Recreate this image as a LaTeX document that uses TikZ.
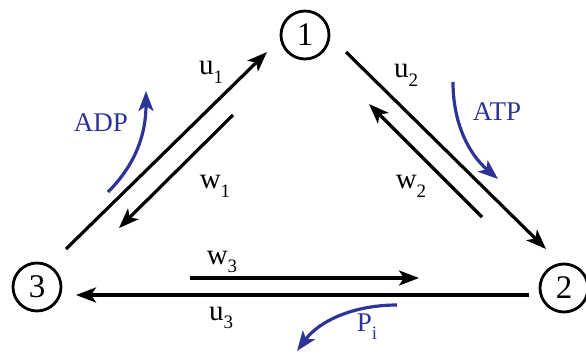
\documentclass[tikz,border=0pt]{standalone}
\usepackage{fontspec}
\setmainfont{Liberation Serif}
\usetikzlibrary{arrows.meta}
\definecolor{myblue}{RGB}{46,52,150}
\newcommand{\lbl}[2]{#1\raisebox{-0.3em}{\fontsize{19}{19}\selectfont #2}}
\begin{document}
\begin{tikzpicture}[x=1pt,y=-1pt,
  state/.style={circle,draw,line width=2.8pt,minimum size=48pt,inner sep=0pt,font=\fontsize{33}{33}\selectfont},
  conn/.style={line width=3.2pt,-{Stealth[length=20pt,width=15pt,inset=5pt]}},
  bluearr/.style={myblue,line width=3.2pt,-{Stealth[length=20pt,width=15pt,inset=5pt]}},
  txt/.style={font=\fontsize{29}{29}\selectfont,inner sep=0pt},
  btxt/.style={font=\fontsize{27}{27}\selectfont,inner sep=0pt,text=myblue}]
\useasboundingbox (0,0) rectangle (586,354);
\node[state] (n1) at (305,35) {1};
\node[state] (n2) at (564,288) {2};
\node[state] (n3) at (37,287) {3};
% edge 3-1
\coordinate (u1a) at (66,249);
\coordinate (u1b) at (267,52);
\coordinate (w1a) at (233,115);
\coordinate (w1b) at (119,228);
\draw[conn] (u1a) -- (u1b);
\draw[conn] (w1a) -- (w1b);
% edge 1-2
\coordinate (u2a) at (346,52);
\coordinate (u2b) at (546,249);
\coordinate (w2a) at (482,217);
\coordinate (w2b) at (369,104);
\draw[conn] (u2a) -- (u2b);
\draw[conn] (w2a) -- (w2b);
% edge 2-3
\coordinate (w3a) at (190,278);
\coordinate (w3b) at (419,278);
\coordinate (u3a) at (529,295);
\coordinate (u3b) at (76,295);
\draw[conn] (w3a) -- (w3b);
\draw[conn] (u3a) -- (u3b);
% blue arrows
\coordinate (adpa) at (108,192);
\coordinate (adpb) at (146,91);
\draw[bluearr] (adpa) .. controls (135,165) and (146,135) .. (adpb);
\coordinate (atpa) at (453,82);
\coordinate (atpb) at (498,179);
\draw[bluearr] (atpa) .. controls (453,125) and (470,155) .. (atpb);
\coordinate (pia) at (397,305);
\coordinate (pib) at (297,351);
\draw[bluearr] (pia) .. controls (355,305) and (320,320) .. (pib);
% labels
\node[txt] (lu1) at (211,72) {\lbl{u}{1}};
\node[txt] (lw1) at (215,186) {\lbl{w}{1}};
\node[txt] (lu2) at (406,75) {\lbl{u}{2}};
\node[txt] (lw2) at (411,186) {\lbl{w}{2}};
\node[txt] (lw3) at (222,262) {\lbl{w}{3}};
\node[txt] (lu3) at (221,318) {\lbl{u}{3}};
\node[btxt] (ladp) at (101,123) {ADP};
\node[btxt] (latp) at (497,112) {ATP};
\node[btxt] (lpi) at (367,327) {\lbl{P}{i}};
\end{tikzpicture}
\end{document}
